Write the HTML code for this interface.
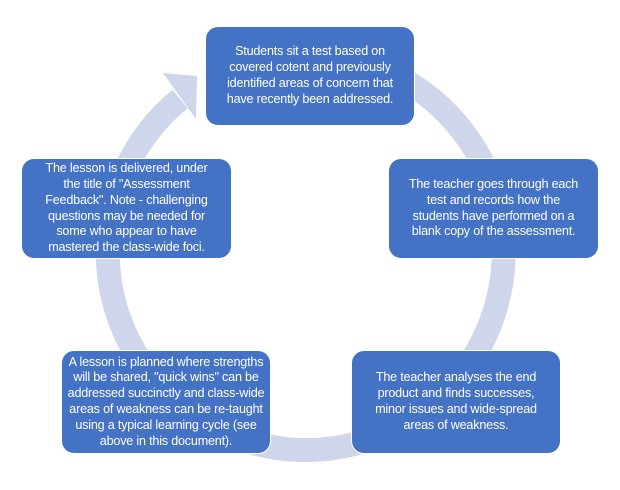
<!DOCTYPE html>
<html><head><style>
body{margin:0;width:620px;height:490px;background:#fff;overflow:hidden;position:relative;font-family:"Liberation Sans",sans-serif}
.b{position:absolute;background:#4472c4;border:1.5px solid #fff;border-radius:13px;box-sizing:border-box;color:#fff;font-size:12.6px;line-height:15.8px;text-align:center;display:flex;align-items:center;justify-content:center;letter-spacing:-0.2px;white-space:nowrap}
</style></head><body>
<svg width="620" height="490" style="position:absolute;left:0;top:0">
<path d="M 180 99 A 198 198 0 1 0 307 54" fill="none" stroke="#cfd5ea" stroke-width="24"/>
<polygon points="163,73 197,76 196,119" fill="#cfd5ea"/>
</svg>
<div class="b" style="left:205px;top:26px;width:210px;height:100px"><div>Students sit a test based on<br>covered cotent and previously<br>identified areas of concern that<br>have recently been addressed.</div></div>
<div class="b" style="left:388px;top:158px;width:211px;height:101px"><div>The teacher goes through each<br>test and records how the<br>students have performed on a<br>blank copy of the assessment.</div></div>
<div class="b" style="left:351px;top:350px;width:210px;height:104px"><div>The teacher analyses the end<br>product and finds successes,<br>minor issues and wide-spread<br>areas of weakness.</div></div>
<div class="b" style="left:61px;top:350px;width:210px;height:104px"><div>A lesson is planned where strengths<br>will be shared, "quick wins" can be<br>addressed succinctly and class-wide<br>areas of weakness can be re-taught<br>using a typical learning cycle (see<br>above in this document).</div></div>
<div class="b" style="left:21px;top:158px;width:211px;height:101px"><div>The lesson is delivered, under<br>the title of "Assessment<br>Feedback". Note - challenging<br>questions may be needed for<br>some who appear to have<br>mastered the class-wide foci.</div></div>
</body></html>
